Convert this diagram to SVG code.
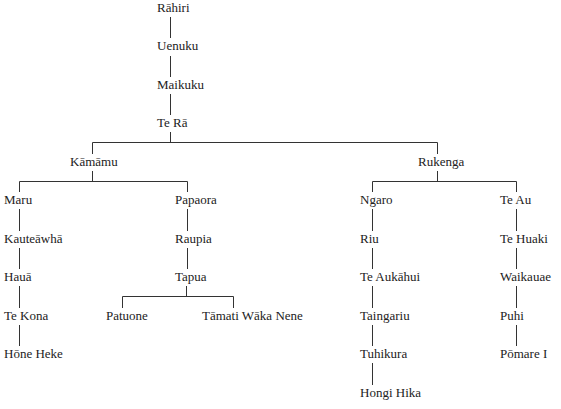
<svg xmlns="http://www.w3.org/2000/svg" width="561" height="409" viewBox="0 0 561 409">
<style>
text{font-family:"Liberation Serif","Times New Roman",serif;font-size:13px;fill:#222}
.c{stroke:#333;stroke-width:1;fill:none}
</style>
<rect width="561" height="409" fill="#fff"/>
<g id="connectors" class="c">
<path d="M170.5 17V38M170.5 56V77M170.5 94V115M170.5 132V142.5"/>
<path d="M92.5 142.5H437.5M92.5 142.5V154M437.5 142.5V154"/>
<path d="M92.5 171V181.5M19.5 181.5H187.5M19.5 181.5V192M187.5 181.5V192"/>
<path d="M437.5 171V181.5M372.5 181.5H516.5M372.5 181.5V192M516.5 181.5V192"/>
<path d="M19.5 209V231M19.5 248V269M19.5 286V308M19.5 325V346"/>
<path d="M187.5 209V231M187.5 248V269M186.5 286V296.5M122.5 296.5H233.5M122.5 296.5V308M233.5 296.5V308"/>
<path d="M372.5 209V231M372.5 248V269M372.5 286V308M372.5 325V346M372.5 363V385"/>
<path d="M516.5 209V231M516.5 248V269M516.5 286V308M516.5 325V346"/>
</g>
<g id="rahiri"><text x="157" y="12">Rāhiri</text></g>
<g id="uenuku"><text x="157" y="50">Uenuku</text></g>
<g id="maikuku"><text x="157" y="89">Maikuku</text></g>
<g id="tera"><text x="157" y="127">Te Rā</text></g>
<g id="kamamu"><text x="70" y="166">Kāmāmu</text></g>
<g id="rukenga"><text x="418" y="166">Rukenga</text></g>
<g id="maru"><text x="4" y="204">Maru</text></g>
<g id="kauteawha"><text x="4" y="243">Kauteāwhā</text></g>
<g id="haua"><text x="4" y="281">Hauā</text></g>
<g id="tekona"><text x="4" y="320">Te Kona</text></g>
<g id="honeheke"><text x="4" y="358">Hōne Heke</text></g>
<g id="papaora"><text x="175" y="204">Papaora</text></g>
<g id="raupia"><text x="175" y="243">Raupia</text></g>
<g id="tapua"><text x="175" y="281">Tapua</text></g>
<g id="patuone"><text x="106" y="320">Patuone</text></g>
<g id="tamati"><text x="202" y="320">Tāmati Wāka Nene</text></g>
<g id="ngaro"><text x="360" y="204">Ngaro</text></g>
<g id="riu"><text x="360" y="243">Riu</text></g>
<g id="teaukahui"><text x="360" y="281">Te Aukāhui</text></g>
<g id="taingariu"><text x="360" y="320">Taingariu</text></g>
<g id="tuhikura"><text x="360" y="358">Tuhikura</text></g>
<g id="hongihika"><text x="360" y="397">Hongi Hika</text></g>
<g id="teau"><text x="500" y="204">Te Au</text></g>
<g id="tehuaki"><text x="500" y="243">Te Huaki</text></g>
<g id="waikauae"><text x="500" y="281">Waikauae</text></g>
<g id="puhi"><text x="500" y="320">Puhi</text></g>
<g id="pomare"><text x="500" y="358">Pōmare I</text></g>
</svg>
